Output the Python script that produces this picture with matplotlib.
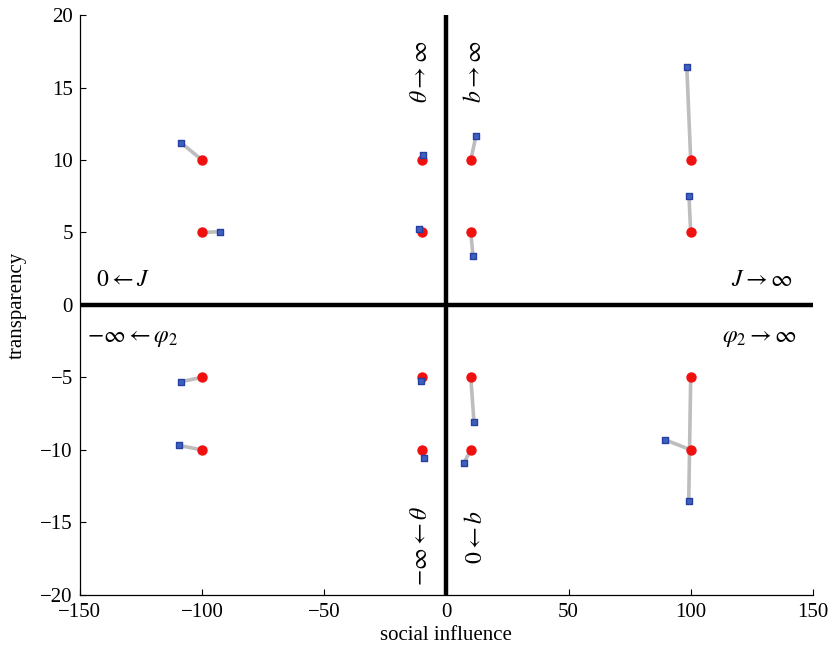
import matplotlib
matplotlib.use("Agg")
import matplotlib.pyplot as plt

plt.rcParams['font.family'] = ['Liberation Serif', 'DejaVu Serif']
plt.rcParams['mathtext.fontset'] = 'stix'

# original positions (red circles)
orig_x = [-100, -100, -10, -10, 10, 10, 100, 100,
          -100, -100, -10, -10, 10, 10, 100, 100]
orig_y = [10, 5, 10, 5, 10, 5, 10, 5,
          -5, -10, -5, -10, -5, -10, -5, -10]
# perturbed positions (blue squares)
new_x = [-108.7, -92.7, -9.4, -11.0, 12.1, 10.9, 98.4, 99.3,
         -108.7, -109.5, -10.5, -9.3, 11.3, 7.2, 99.2, 89.4]
new_y = [11.2, 5.05, 10.35, 5.25, 11.65, 3.4, 16.45, 7.5,
         -5.3, -9.7, -5.25, -10.55, -8.1, -10.9, -13.5, -9.3]

xticks = [-150, -100, -50, 0, 50, 100, 150]
yticks = [-20, -15, -10, -5, 0, 5, 10, 15, 20]

fig = plt.figure(figsize=(8.32, 6.55), dpi=100)
ax = fig.add_axes([0.096, 0.092, 0.881, 0.885])

ax.axhline(0, color='black', lw=3.2, zorder=1)
ax.axvline(0, color='black', lw=3.2, zorder=1)

for x0, y0, x1, y1 in zip(orig_x, orig_y, new_x, new_y):
    ax.plot([x0, x1], [y0, y1], color='#bdbdbd', lw=2.6, zorder=2, solid_capstyle='butt')

ax.scatter(orig_x, orig_y, s=42, marker='o', color='#f01010', edgecolors='#f01010', zorder=3)
ax.scatter(new_x, new_y, s=22, marker='s', color='#4060c0', edgecolors='#2440a0', linewidths=1.0, zorder=4)

ax.set_xlim(-150, 150)
ax.set_ylim(-20, 20)
ax.set_xticks(xticks)
ax.set_yticks(yticks)
ax.set_xticklabels([('\u2212' + str(-t) if t < 0 else str(t)) for t in xticks])
ax.set_yticklabels([('\u2212' + str(-t) if t < 0 else str(t)) for t in yticks])
ax.tick_params(direction='in', length=4, width=0.8, labelsize=15)
ax.tick_params(axis='y', pad=5)
ax.tick_params(axis='x', pad=6)
for s in ['top', 'right']:
    ax.spines[s].set_visible(False)
for s in ['left', 'bottom']:
    ax.spines[s].set_linewidth(0.9)

ax.set_xlabel('social influence', fontsize=15, labelpad=3)
ax.set_ylabel('transparency', fontsize=15, labelpad=10)

fs = 17
ax.text(-10, 16.1, r'$\theta \rightarrow \infty$', rotation=90, fontsize=fs, ha='center', va='center')
ax.text(11.7, 16.1, r'$b \rightarrow \infty$', rotation=90, fontsize=fs, ha='center', va='center')
ax.text(-10, -16.6, r'$-\infty \leftarrow \theta$', rotation=90, fontsize=fs, ha='center', va='center')
ax.text(12, -16.0, r'$0 \leftarrow b$', rotation=90, fontsize=fs, ha='center', va='center')
ax.text(-132.5, 1.7, r'$0 \leftarrow J$', fontsize=fs, ha='center', va='center')
ax.text(-128.5, -2.3, r'$-\infty \leftarrow \varphi_2$', fontsize=fs, ha='center', va='center')
ax.text(129, 1.7, r'$J \rightarrow \infty$', fontsize=fs, ha='center', va='center')
ax.text(128, -2.3, r'$\varphi_2 \rightarrow \infty$', fontsize=fs, ha='center', va='center')

fig.savefig('out.png', dpi=100)
